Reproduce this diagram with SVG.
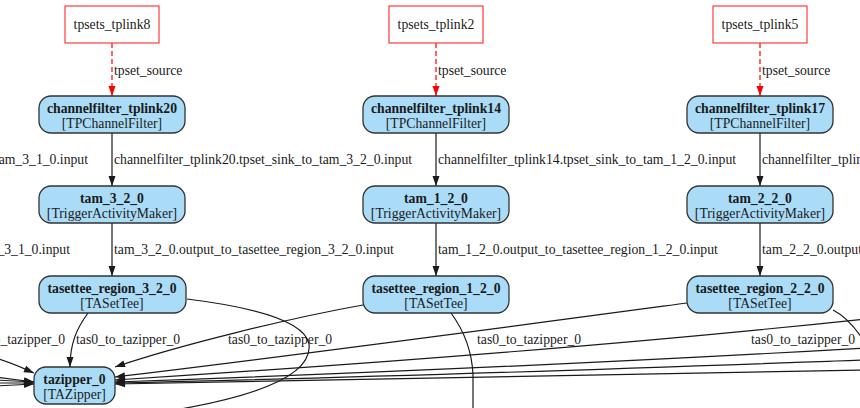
<svg xmlns="http://www.w3.org/2000/svg" width="860" height="408" viewBox="0 0 860 408">
<style>
.src rect{fill:#ffffff;stroke:#ff3b3b;stroke-width:1.2}
.mod rect{fill:#aadcf7;stroke:#333333;stroke-width:1.3}
text{font-family:"Liberation Serif","Times New Roman",serif;font-size:13.7px;fill:#1a1a1a}
.b{font-weight:bold}
.c{text-anchor:middle}
.end{text-anchor:end}
.e{fill:none;stroke:#1a1a1a;stroke-width:1.2}
.r{fill:none;stroke:#ff0000;stroke-width:1.2;stroke-dasharray:5,3}
</style>
<defs>
<marker id="ab" markerUnits="userSpaceOnUse" viewBox="0 0 10 7" markerWidth="10" markerHeight="7" refX="10" refY="3.5" orient="auto" overflow="visible">
<path d="M0,0 L10,3.5 L0,7 z" fill="#1a1a1a"/>
</marker>
<marker id="ar" markerUnits="userSpaceOnUse" viewBox="0 0 10 7" markerWidth="10" markerHeight="7" refX="10" refY="3.5" orient="auto" overflow="visible">
<path d="M0,0 L10,3.5 L0,7 z" fill="#ff0000"/>
</marker>
</defs>

<g id="connectors">
<path class="r" d="M112,43 L112,96" marker-end="url(#ar)"/>
<path class="r" d="M436,43 L436,96" marker-end="url(#ar)"/>
<path class="r" d="M760,43 L760,96" marker-end="url(#ar)"/>
<path class="e" d="M112,133 L112,186" marker-end="url(#ab)"/>
<path class="e" d="M436,133 L436,186" marker-end="url(#ab)"/>
<path class="e" d="M760,133 L760,186" marker-end="url(#ab)"/>
<path class="e" d="M112,223 L112,276" marker-end="url(#ab)"/>
<path class="e" d="M436,223 L436,276" marker-end="url(#ab)"/>
<path class="e" d="M760,223 L760,276" marker-end="url(#ab)"/>
<path class="e" d="M88,313 C77,328 70,343 70,367" marker-end="url(#ab)"/>
<path class="e" d="M187,299 C260,308 305,322 309,344 C312,368 280,392 175,410"/>
<path class="e" d="M363,305 C290,318 180,345 115,367" marker-end="url(#ab)"/>
<path class="e" d="M451,313 C462,328 472,350 473,375 L473,412"/>
<path class="e" d="M687,303 C560,320 300,355 115,377" marker-end="url(#ab)"/>
<path class="e" d="M865,319 C640,343 400,362 115,380" marker-end="url(#ab)"/>
<path class="e" d="M865,348 C640,361 400,372 115,382" marker-end="url(#ab)"/>
<path class="e" d="M865,360 C640,368 400,377 115,383" marker-end="url(#ab)"/>
<path class="e" d="M865,370 C640,376 400,380 115,384" marker-end="url(#ab)"/>
<path class="e" d="M833,310 C845,316 853,325 862,338"/>
<path class="e" d="M-5,358 C10,362 20,367 34,373" marker-end="url(#ab)"/>
<path class="e" d="M-5,377 L34,382" marker-end="url(#ab)"/>
<path class="e" d="M-5,380 L34,382" marker-end="url(#ab)"/>
<path class="e" d="M-5,383 L34,383" marker-end="url(#ab)"/>
<path class="e" d="M-5,386 L34,384" marker-end="url(#ab)"/>

<text x="114" y="75">tpset_source</text>
<text x="438" y="75">tpset_source</text>
<text x="762" y="75">tpset_source</text>
<text x="88" y="164" class="end">to_tam_3_1_0.input</text>
<text x="114" y="164">channelfilter_tplink20.tpset_sink_to_tam_3_2_0.input</text>
<text x="438" y="164">channelfilter_tplink14.tpset_sink_to_tam_1_2_0.input</text>
<text x="762" y="164">channelfilter_tplink17.tpset_sink_to_tam_2_2_0.input</text>
<text x="70" y="254" class="end">tasettee_region_3_1_0.input</text>
<text x="114" y="254">tam_3_2_0.output_to_tasettee_region_3_2_0.input</text>
<text x="438" y="254">tam_1_2_0.output_to_tasettee_region_1_2_0.input</text>
<text x="762" y="254">tam_2_2_0.output_to_tasettee_region_2_2_0.input</text>
<text x="65" y="344" class="end">tas0_to_tazipper_0</text>
<text x="76" y="344">tas0_to_tazipper_0</text>
<text x="228" y="344">tas0_to_tazipper_0</text>
<text x="477" y="344">tas0_to_tazipper_0</text>
<text x="751" y="344">tas0_to_tazipper_0</text>
</g>

<g id="tpsets_tplink8" class="src"><rect x="65" y="6" width="94" height="37"/><text x="112" y="29" class="c">tpsets_tplink8</text></g>
<g id="tpsets_tplink2" class="src"><rect x="389" y="6" width="94" height="37"/><text x="436" y="29" class="c">tpsets_tplink2</text></g>
<g id="tpsets_tplink5" class="src"><rect x="713" y="6" width="94" height="37"/><text x="760" y="29" class="c">tpsets_tplink5</text></g>

<g id="channelfilter_tplink20" class="mod"><rect x="39" y="96" width="146" height="37" rx="12"/><text x="112" y="113" class="c b">channelfilter_tplink20</text><text x="112" y="128" class="c">[TPChannelFilter]</text></g>
<g id="channelfilter_tplink14" class="mod"><rect x="363" y="96" width="146" height="37" rx="12"/><text x="436" y="113" class="c b">channelfilter_tplink14</text><text x="436" y="128" class="c">[TPChannelFilter]</text></g>
<g id="channelfilter_tplink17" class="mod"><rect x="687" y="96" width="146" height="37" rx="12"/><text x="760" y="113" class="c b">channelfilter_tplink17</text><text x="760" y="128" class="c">[TPChannelFilter]</text></g>

<g id="tam_3_2_0" class="mod"><rect x="39" y="186" width="146" height="37" rx="12"/><text x="112" y="203" class="c b">tam_3_2_0</text><text x="112" y="218" class="c">[TriggerActivityMaker]</text></g>
<g id="tam_1_2_0" class="mod"><rect x="363" y="186" width="146" height="37" rx="12"/><text x="436" y="203" class="c b">tam_1_2_0</text><text x="436" y="218" class="c">[TriggerActivityMaker]</text></g>
<g id="tam_2_2_0" class="mod"><rect x="687" y="186" width="146" height="37" rx="12"/><text x="760" y="203" class="c b">tam_2_2_0</text><text x="760" y="218" class="c">[TriggerActivityMaker]</text></g>

<g id="tasettee_region_3_2_0" class="mod"><rect x="39" y="276" width="147" height="37" rx="12"/><text x="112" y="293" class="c b">tasettee_region_3_2_0</text><text x="112" y="308" class="c">[TASetTee]</text></g>
<g id="tasettee_region_1_2_0" class="mod"><rect x="363" y="276" width="146" height="37" rx="12"/><text x="436" y="293" class="c b">tasettee_region_1_2_0</text><text x="436" y="308" class="c">[TASetTee]</text></g>
<g id="tasettee_region_2_2_0" class="mod"><rect x="687" y="276" width="146" height="37" rx="12"/><text x="760" y="293" class="c b">tasettee_region_2_2_0</text><text x="760" y="308" class="c">[TASetTee]</text></g>

<g id="tazipper_0" class="mod"><rect x="34" y="367" width="81" height="37" rx="12"/><text x="74.5" y="384" class="c b">tazipper_0</text><text x="74.5" y="399" class="c">[TAZipper]</text></g>
</svg>
